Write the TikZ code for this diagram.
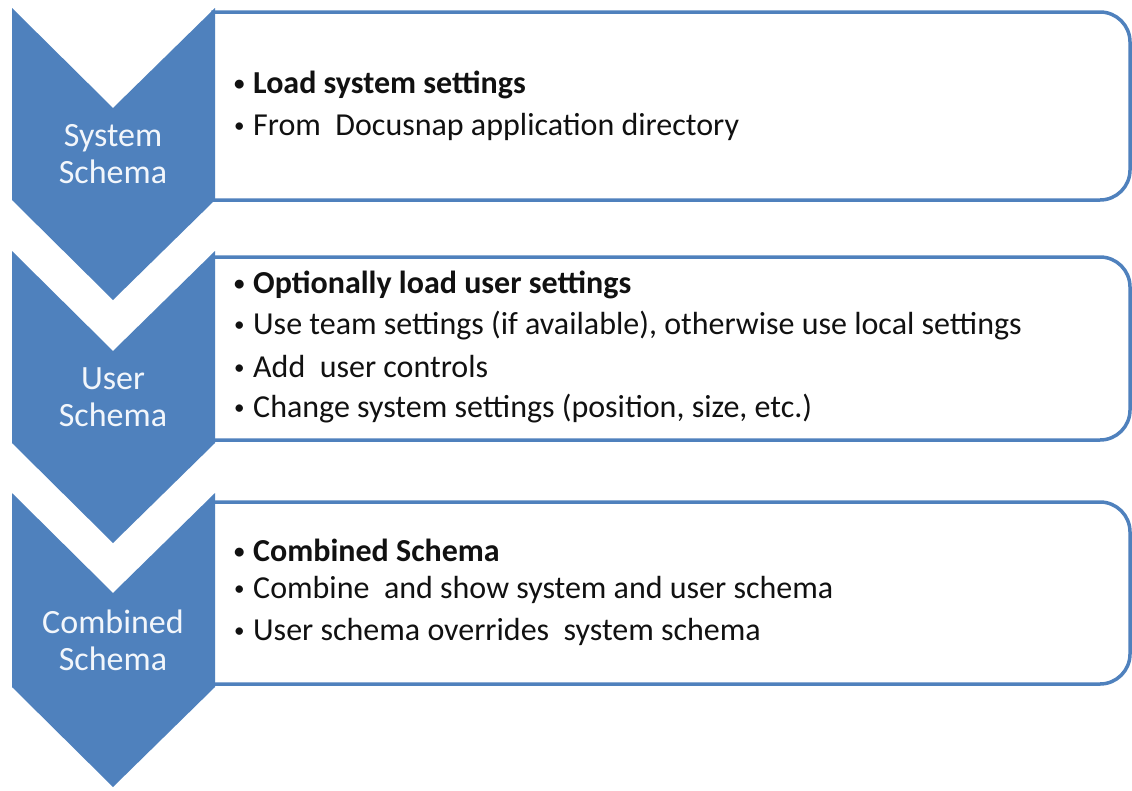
\documentclass[tikz,border=0pt]{standalone}
\usepackage{fontspec}
\setmainfont{Carlito}
\definecolor{chev}{HTML}{4F81BD}
\definecolor{txt}{HTML}{111111}
\definecolor{chevtxt}{HTML}{F2F6FB}
\tikzset{
  chevron/.style={fill=chev, draw=none},
  listbox/.style={draw=chev, line width=3.5pt, fill=white},
  chevlabel/.style={text=chevtxt, font=\fontsize{34}{37}\selectfont, align=center, inner sep=0pt},
  item/.style={text=txt, font=\fontsize{32}{36}\selectfont, anchor=west, inner sep=0pt},
  itemb/.style={item, font=\fontsize{32}{36}\selectfont\bfseries}
}
\newcommand{\bul}{\makebox[20pt][l]{\hspace{1pt}\raisebox{3pt}{\fontsize{21}{21}\selectfont\textbullet}}}
\begin{document}
\begin{tikzpicture}[x=1pt,y=-1pt]
\useasboundingbox (0,0) rectangle (1132,790);
% boxes
\foreach \t/\b in {12/200, 257/440, 502/684}{
  \draw[listbox] (213,\t) -- (1100,\t) arc[start angle=-90,end angle=0,radius=30] -- (1130,\b-30) arc[start angle=0,end angle=90,radius=30] -- (213,\b) -- cycle;
}
% chevrons
\foreach \t/\b in {8/200, 251/443, 493/687}{
  \fill[chevron] (12,\t) -- (113,\t+100) -- (215,\t) -- (215,\b) -- (113,\b+100) -- (12,\b) -- cycle;
}
\node[chevlabel] (c1) at (113,154) {System\\Schema};
\node[chevlabel] (c2) at (113,397) {User\\Schema};
\node[chevlabel] (c3) at (113,640) {Combined\\Schema};
% texts
\node[itemb] (t11) at (233,85) {\bul Load system settings};
\node[item]  (t12) at (233,127) {\bul From\ \ Docusnap application directory};
\node[itemb] (t21) at (233,285) {\bul Optionally load user settings};
\node[item]  (t22) at (233,326) {\bul Use team settings (if available), otherwise use local settings};
\node[item]  (t23) at (233,367) {\bul Add\ \ user controls};
\node[item]  (t24) at (233,409) {\bul Change system settings (position, size, etc.)};
\node[itemb] (t31) at (233,550) {\bul Combined Schema};
\node[item]  (t32) at (233,590) {\bul Combine\ \ and show system and user schema};
\node[item]  (t33) at (233,632) {\bul User schema overrides\ \ system schema};
\end{tikzpicture}
\end{document}
